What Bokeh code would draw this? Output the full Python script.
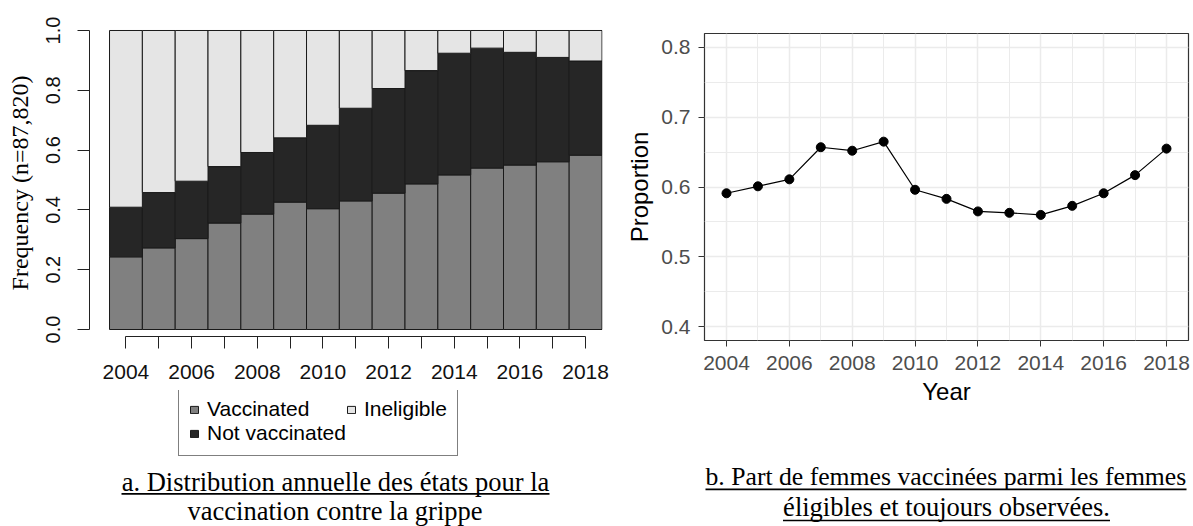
from bokeh.plotting import figure
from bokeh.models import ColumnDataSource, FixedTicker, Legend, LegendItem
from bokeh.core.properties import value
from bokeh.layouts import row, column
from bokeh.embed import file_html
from bokeh.resources import INLINE

# ---------------- data ----------------
years = [2004, 2005, 2006, 2007, 2008, 2009, 2010, 2011, 2012, 2013,
         2014, 2015, 2016, 2017, 2018]
vaccinated = [0.243, 0.273, 0.304, 0.356, 0.386, 0.426, 0.404, 0.430,
              0.456, 0.487, 0.517, 0.540, 0.550, 0.561, 0.583]
not_vaccinated = [0.166, 0.185, 0.192, 0.189, 0.206, 0.215, 0.279, 0.310,
                  0.350, 0.379, 0.407, 0.401, 0.377, 0.349, 0.315]
ineligible = [0.591, 0.542, 0.504, 0.455, 0.408, 0.359, 0.317, 0.260,
              0.194, 0.134, 0.076, 0.059, 0.073, 0.090, 0.102]
proportion = [0.591, 0.601, 0.611, 0.657, 0.652, 0.665, 0.596, 0.583,
              0.565, 0.563, 0.560, 0.573, 0.591, 0.617, 0.655]

series_names = ["Vaccinated", "Not vaccinated", "Ineligible"]
series_colors = ["#808080", "#262626", "#e5e5e5"]

major_years = [2004, 2006, 2008, 2010, 2012, 2014, 2016, 2018]
minor_years = [2005, 2007, 2009, 2011, 2013, 2015, 2017]
year_labels = ["2004", "2006", "2008", "2010", "2012", "2014", "2016", "2018"]

freq_ticks = [0.0, 0.2, 0.4, 0.6, 0.8, 1.0]
freq_labels = ["0.0", "0.2", "0.4", "0.6", "0.8", "1.0"]
prop_ticks = [0.4, 0.5, 0.6, 0.7, 0.8]
prop_minor = [0.45, 0.55, 0.65, 0.75]
prop_labels = ["0.4", "0.5", "0.6", "0.7", "0.8"]

caption_a = ["a. Distribution annuelle des états pour la",
             "vaccination contre la grippe"]
caption_b = ["b. Part de femmes vaccinées parmi les femmes",
             "éligibles et toujours observées."]

SANS = "Liberation Sans"
SERIF = "Liberation Serif"
BAR_EDGE = "#1a1a1a"

# ---------------- left: stacked bars ----------------
src = ColumnDataSource(dict(year=years, v=vaccinated, nv=not_vaccinated,
                            ie=ineligible))

left = figure(width=620, height=390, x_range=(2002.89, 2018.515),
              y_range=(-0.0234, 1.00334), output_backend="svg",
              toolbar_location=None, min_border_left=89, min_border_right=18,
              min_border_top=29, min_border_bottom=54)
left.outline_line_color = None
left.xgrid.visible = False
left.ygrid.visible = False

bars = left.vbar_stack(["v", "nv", "ie"], x="year", width=1.0, source=src,
                       fill_color=series_colors, line_color=BAR_EDGE,
                       line_width=1)

xa = left.xaxis[0]
xa.ticker = FixedTicker(ticks=major_years, minor_ticks=minor_years)
xa.major_label_overrides = {y: s for y, s in zip(major_years, year_labels)}
xa.bounds = (years[0], years[-1])
xa.axis_line_color = "#222222"
xa.major_tick_line_color = "#222222"
xa.minor_tick_line_color = "#222222"
xa.major_tick_out = 12
xa.major_tick_in = 0
xa.minor_tick_out = 12
xa.minor_tick_in = 0
xa.major_label_text_font = SANS
xa.major_label_text_font_size = "21px"
xa.major_label_text_color = "#111111"
xa.major_label_standoff = 16

ya = left.yaxis[0]
ya.ticker = FixedTicker(ticks=freq_ticks)
ya.major_label_overrides = {t: s for t, s in zip(freq_ticks, freq_labels)}
ya.bounds = (0, 1)
ya.axis_line_color = "#222222"
ya.major_tick_line_color = "#222222"
ya.minor_tick_line_color = None
ya.major_tick_out = 12
ya.major_tick_in = 0
ya.major_label_orientation = "vertical"
ya.major_label_text_font = SANS
ya.major_label_text_font_size = "20px"
ya.major_label_text_color = "#111111"
ya.major_label_standoff = 17
ya.axis_label = "Frequency (n=87,820)"
ya.axis_label_text_font = SERIF
ya.axis_label_text_font_size = "24px"
ya.axis_label_text_font_style = "normal"
ya.axis_label_text_color = "#000000"
ya.axis_label_standoff = 11

# ---------------- left bottom strip: legend + caption a ----------------
# the strip's frame lines up with the bar chart frame (page x 89..602),
# so its ranges are page pixels (x 89..602, y 390..526)
left_cap = figure(width=620, height=136, x_range=(89, 602),
                  y_range=(526, 390), x_axis_type=None, y_axis_type=None,
                  output_backend="svg", toolbar_location=None,
                  min_border_left=89, min_border_right=18, min_border_top=0,
                  min_border_bottom=0)
left_cap.outline_line_color = None
left_cap.grid.visible = False

# legend swatches: same stacked series, hidden renderers (legend only)
swatches = left_cap.vbar_stack(["v", "nv", "ie"], x="year", width=1.0,
                               source=src, fill_color=series_colors,
                               line_color=BAR_EDGE, line_width=1)
for r in swatches:
    r.visible = False
legend = Legend(items=[LegendItem(label=n, renderers=[r])
                       for n, r in zip(series_names, swatches)],
                location=(178 - 89, 526 - 456), orientation="vertical",
                nrows=2, border_line_color="#000000", border_line_width=1,
                background_fill_color="white", background_fill_alpha=1,
                inactive_fill_alpha=0.0,
                label_text_font=SANS, label_text_font_size="21px",
                label_text_line_height=1.0,
                label_text_color="#000000", glyph_width=10, glyph_height=9,
                label_standoff=8, label_height=20, spacing=0, padding=10,
                margin=0)
left_cap.add_layout(legend)

left_cap.text(x=[335, 334.5], y=[481, 510], text=caption_a,
              text_align="center", text_baseline="middle",
              text_font=value(SERIF), text_font_size="26.5px",
              text_color="#000000")
left_cap.segment(x0=[121], y0=[493.3], x1=[549], y1=[493.3],
                 line_color="#000000", line_width=1.7)

# ---------------- right: line chart ----------------
right = figure(width=573, height=420, x_range=(2003.3, 2018.7),
               y_range=(0.38, 0.82), output_backend="svg",
               toolbar_location=None, min_border_left=84, min_border_right=5,
               min_border_top=33, min_border_bottom=80)
right.outline_line_color = "#333333"
right.outline_line_width = 1.2

right.xgrid.ticker = FixedTicker(ticks=major_years, minor_ticks=minor_years)
right.ygrid.ticker = FixedTicker(ticks=prop_ticks, minor_ticks=prop_minor)
for g in (right.xgrid[0], right.ygrid[0]):
    g.grid_line_color = "#ebebeb"
    g.grid_line_width = 1.5
    g.minor_grid_line_color = "#ebebeb"
    g.minor_grid_line_width = 1.0

right.line(years, proportion, line_color="#000000", line_width=1.2)
right.scatter(years, proportion, size=9, marker="circle",
              fill_color="#000000", line_color="#000000")

rx = right.xaxis[0]
rx.ticker = FixedTicker(ticks=major_years)
rx.major_label_overrides = {y: s for y, s in zip(major_years, year_labels)}
rx.axis_line_color = None
rx.major_tick_line_color = "#333333"
rx.minor_tick_line_color = None
rx.major_tick_out = 6
rx.major_tick_in = 0
rx.major_label_text_font = SANS
rx.major_label_text_font_size = "21px"
rx.major_label_text_color = "#4d4d4d"
rx.major_label_standoff = 9
rx.axis_label = "Year"
rx.axis_label_text_font = SANS
rx.axis_label_text_font_size = "24px"
rx.axis_label_text_font_style = "normal"
rx.axis_label_text_color = "#000000"
rx.axis_label_standoff = 5

ry = right.yaxis[0]
ry.ticker = FixedTicker(ticks=prop_ticks)
ry.major_label_overrides = {t: s for t, s in zip(prop_ticks, prop_labels)}
ry.axis_line_color = None
ry.major_tick_line_color = "#333333"
ry.minor_tick_line_color = None
ry.major_tick_out = 6
ry.major_tick_in = 0
ry.major_label_text_font = SANS
ry.major_label_text_font_size = "21px"
ry.major_label_text_color = "#4d4d4d"
ry.major_label_standoff = 8
ry.axis_label = "Proportion"
ry.axis_label_text_font = SANS
ry.axis_label_text_font_size = "24px"
ry.axis_label_text_font_style = "normal"
ry.axis_label_text_color = "#000000"
ry.axis_label_standoff = 5

# ---------------- right bottom strip: caption b ----------------
# frame lines up with the line chart frame: page x 704..1188, y 420..526
right_cap = figure(width=573, height=106, x_range=(704, 1188),
                   y_range=(526, 420), x_axis_type=None, y_axis_type=None,
                   output_backend="svg", toolbar_location=None,
                   min_border_left=84, min_border_right=5, min_border_top=0,
                   min_border_bottom=0)
right_cap.outline_line_color = None
right_cap.grid.visible = False

right_cap.text(x=[705], y=[476], text=[caption_b[0]], text_align="left",
               text_baseline="middle", text_font=value(SERIF),
               text_font_size="25.7px", text_color="#000000")
right_cap.text(x=[946], y=[506], text=[caption_b[1]], text_align="center",
               text_baseline="middle", text_font=value(SERIF),
               text_font_size="26.5px", text_color="#000000")
right_cap.segment(x0=[705, 782.5], y0=[488.8, 520.0], x1=[1186, 1109.5],
                  y1=[488.8, 520.0], line_color="#000000", line_width=1.7)

layout = row(column(left, left_cap), column(right, right_cap))
open("out.html", "w").write(file_html(layout, INLINE))
